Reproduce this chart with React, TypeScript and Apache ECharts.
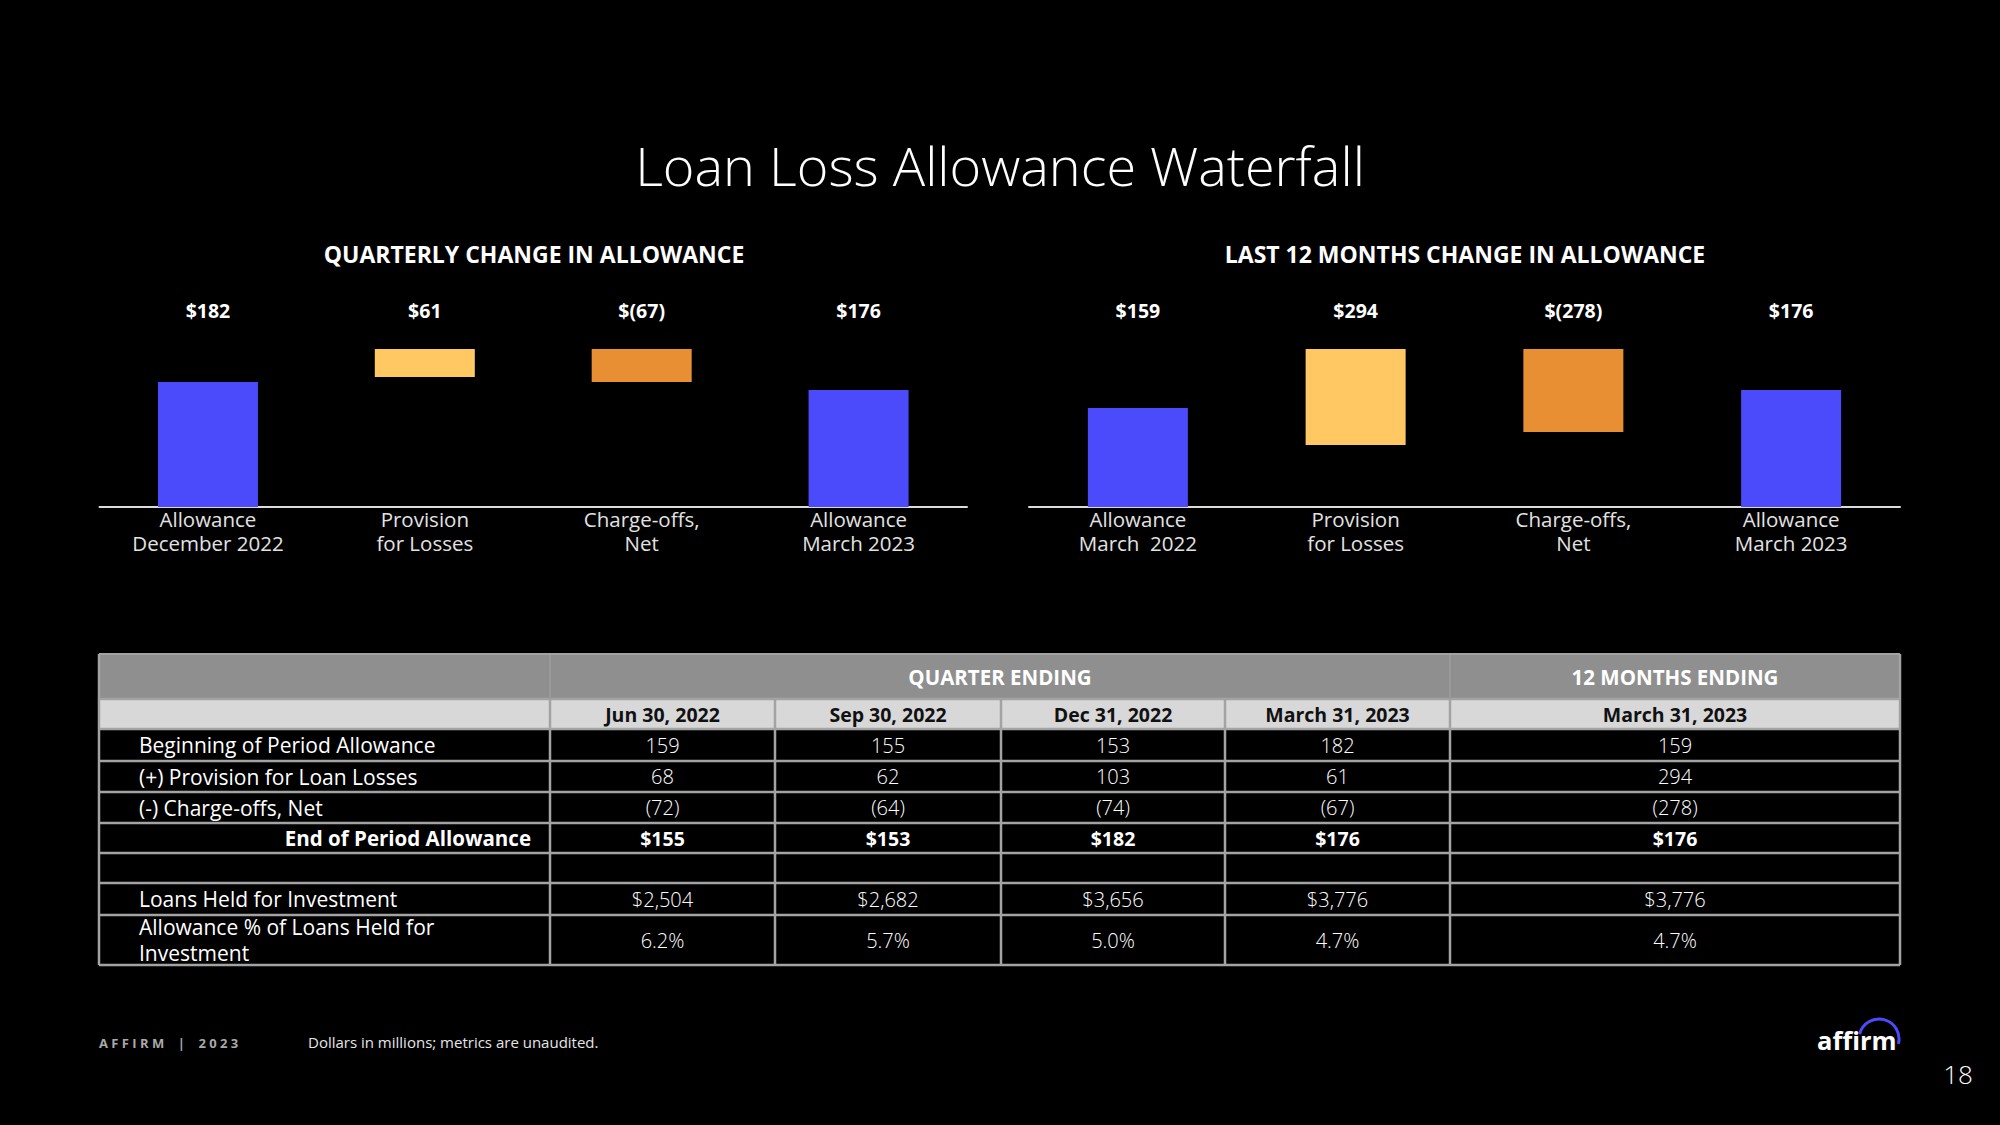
import React, { useEffect, useRef } from 'react';
import * as echarts from 'echarts';

// ---------- Chart data ----------
const qCategories = ['Allowance\nDecember 2022', 'Provision\nfor Losses', 'Charge-offs,\nNet', 'Allowance\nMarch 2023'];
const qValueLabels = ['$182', '$61', '$(67)', '$176'];
// bar extents as drawn (display scale of the slide)
const qBarLow = [0, 130, 125, 0];
const qBarHigh = [125, 158, 158, 117];

const ltmCategories = ['Allowance\nMarch  2022', 'Provision\nfor Losses', 'Charge-offs,\nNet', 'Allowance\nMarch 2023'];
const ltmValueLabels = ['$159', '$294', '$(278)', '$176'];
const ltmBarLow = [0, 62, 75, 0];
const ltmBarHigh = [99, 158, 158, 117];

const barColors = ['#4B4BFB', '#FFC862', '#E88E33', '#4B4BFB'];

// ---------- Table data ----------
const periodHeaders = ['Jun 30, 2022', 'Sep 30, 2022', 'Dec 31, 2022', 'March 31, 2023', 'March 31, 2023'];
const groupHeaders = ['QUARTER ENDING', '12 MONTHS ENDING'];
const rowLabels = [
  'Beginning of Period Allowance',
  '(+) Provision for Loan Losses',
  '(-) Charge-offs, Net',
  'End of Period Allowance',
  '',
  'Loans Held for Investment',
  'Allowance % of Loans Held for\nInvestment',
];
const beginning = [159, 155, 153, 182, 159];
const provision = [68, 62, 103, 61, 294];
const chargeOffs = [-72, -64, -74, -67, -278];
const endAllowance = [155, 153, 182, 176, 176];
const loansHeld = [2504, 2682, 3656, 3776, 3776];
const allowancePct = [6.2, 5.7, 5.0, 4.7, 4.7];

const FONT = '"Open Sans", "Noto Sans", sans-serif';

const fmtPlain = (v: number) => String(v);
const fmtNeg = (v: number) => `(${-v})`;
const fmtDollar = (v: number) => `$${v.toLocaleString('en-US')}`;
const fmtPct = (v: number) => `${v.toFixed(1)}%`;

const tableRows: string[][] = [
  beginning.map(fmtPlain),
  provision.map(fmtPlain),
  chargeOffs.map(fmtNeg),
  endAllowance.map(fmtDollar),
  ['', '', '', '', ''],
  loansHeld.map(fmtDollar),
  allowancePct.map(fmtPct),
];

// table layout
const colX = [99, 550, 775, 1001, 1225, 1450, 1900];
const rowY = [654, 699, 729, 761, 792, 823, 853, 883, 915, 965];
const LINE = '#a3a3a3';

function buildTable(): any[] {
  const g: any[] = [];
  const left = colX[0];
  const right = colX[colX.length - 1];
  g.push({ type: 'rect', shape: { x: left, y: rowY[0], width: right - left, height: rowY[1] - rowY[0] }, style: { fill: '#8f8f8f' } });
  g.push({ type: 'rect', shape: { x: left, y: rowY[1], width: right - left, height: rowY[2] - rowY[1] }, style: { fill: '#d8d8d9' } });
  g.push({ type: 'rect', shape: { x: left, y: rowY[2], width: right - left, height: rowY[rowY.length - 1] - rowY[2] }, style: { fill: '#000' } });
  for (let i = 1; i < rowY.length; i++) {
    g.push({ type: 'line', shape: { x1: left, y1: rowY[i], x2: right, y2: rowY[i] }, style: { stroke: LINE, lineWidth: 2.5 } });
  }
  for (let c = 0; c < colX.length; c++) {
    g.push({ type: 'line', shape: { x1: colX[c], y1: rowY[1], x2: colX[c], y2: rowY[rowY.length - 1] }, style: { stroke: LINE, lineWidth: 2.5 } });
  }
  [colX[1], colX[5]].forEach((x) => {
    g.push({ type: 'line', shape: { x1: x, y1: rowY[0], x2: x, y2: rowY[1] }, style: { stroke: '#9a9a9a', lineWidth: 2 } });
  });
  [left, right].forEach((x) => {
    g.push({ type: 'line', shape: { x1: x, y1: rowY[0], x2: x, y2: rowY[1] }, style: { stroke: LINE, lineWidth: 2.5 } });
  });
  g.push({ type: 'line', shape: { x1: left, y1: rowY[0], x2: right, y2: rowY[0] }, style: { stroke: LINE, lineWidth: 2 } });

  const h1y = (rowY[0] + rowY[1]) / 2;
  g.push({ type: 'text', x: (colX[1] + colX[5]) / 2, y: h1y, style: { text: groupHeaders[0], fill: '#fff', font: `bold 20.5px ${FONT}`, align: 'center', verticalAlign: 'middle' } });
  g.push({ type: 'text', x: (colX[5] + colX[6]) / 2, y: h1y, style: { text: groupHeaders[1], fill: '#fff', font: `bold 20.5px ${FONT}`, align: 'center', verticalAlign: 'middle' } });
  const h2y = (rowY[1] + rowY[2]) / 2;
  periodHeaders.forEach((t, i) => {
    g.push({ type: 'text', x: (colX[i + 1] + colX[i + 2]) / 2, y: h2y, style: { text: t, fill: '#111', font: `bold 19.5px ${FONT}`, align: 'center', verticalAlign: 'middle' } });
  });
  rowLabels.forEach((label, r) => {
    const cy = (rowY[r + 2] + rowY[r + 3]) / 2;
    const bold = r === 3;
    if (label) {
      g.push({
        type: 'text',
        x: bold ? colX[1] - 19 : 139,
        y: cy,
        style: {
          text: label,
          fill: '#fff',
          font: `${bold ? 'bold' : 'normal'} ${bold ? 20.5 : 21}px ${FONT}`,
          align: bold ? 'right' : 'left',
          verticalAlign: 'middle',
          lineHeight: 26,
        },
      });
    }
    tableRows[r].forEach((v, i) => {
      if (!v) return;
      g.push({
        type: 'text',
        x: (colX[i + 1] + colX[i + 2]) / 2,
        y: cy,
        style: { text: v, fill: '#fff', font: `${bold ? 'bold' : '300'} ${bold ? 19.5 : 20}px ${FONT}`, align: 'center', verticalAlign: 'middle' },
      });
    });
  });
  return g;
}

function App() {
  const ref = useRef<HTMLDivElement>(null);
  useEffect(() => {
    document.body.style.margin = '0';
    document.body.style.background = '#000';
    const chart = echarts.init(ref.current!, null, { renderer: 'svg' });

    const mkX = (gridIndex: number, cats: string[], labels: string[]) => [
      {
        gridIndex,
        type: 'category',
        data: cats,
        position: 'bottom',
        axisLine: { lineStyle: { color: '#dcdcdc', width: 2 } },
        axisTick: { show: false },
        axisLabel: { color: '#e2e2e2', fontSize: 20.5, lineHeight: 24, margin: 0, fontFamily: FONT, interval: 0 },
      },
      {
        gridIndex,
        type: 'category',
        data: labels,
        position: 'top',
        axisLine: { show: false },
        axisTick: { show: false },
        axisLabel: { color: '#fff', fontSize: 19.5, fontWeight: 'bold', margin: 10, fontFamily: FONT, interval: 0 },
      },
    ];

    const mkSeries = (idx: number, low: number[], high: number[], stack: string) => [
      {
        type: 'bar',
        xAxisIndex: idx * 2,
        yAxisIndex: idx,
        stack,
        barWidth: 100,
        data: low,
        itemStyle: { color: 'transparent' },
        silent: true,
      },
      {
        type: 'bar',
        xAxisIndex: idx * 2,
        yAxisIndex: idx,
        stack,
        barWidth: 100,
        data: high.map((h, i) => ({ value: h - low[i], itemStyle: { color: barColors[i] } })),
      },
    ];

    const graphic: any[] = [
      { type: 'text', x: 1000, y: 165, style: { text: 'Loan Loss Allowance Waterfall', fill: '#fff', font: `300 54px ${FONT}`, align: 'center', verticalAlign: 'middle' } },
      { type: 'text', x: 534, y: 254, style: { text: 'QUARTERLY CHANGE IN ALLOWANCE', fill: '#fff', font: `bold 23px ${FONT}`, align: 'center', verticalAlign: 'middle' } },
      { type: 'text', x: 1465, y: 254, style: { text: 'LAST 12 MONTHS CHANGE IN ALLOWANCE', fill: '#fff', font: `bold 23px ${FONT}`, align: 'center', verticalAlign: 'middle' } },
      ...buildTable(),
      { type: 'text', x: 99, y: 1043, style: { text: 'A F F I R M    |    2 0 2 3', fill: '#a9a9a9', font: `bold 13px ${FONT}`, align: 'left', verticalAlign: 'middle' } },
      { type: 'text', x: 308, y: 1042, style: { text: 'Dollars in millions; metrics are unaudited.', fill: '#e6e6e6', font: `normal 15px ${FONT}`, align: 'left', verticalAlign: 'middle' } },
      { type: 'text', x: 1817, y: 1040, style: { text: 'affirm', fill: '#fff', font: `bold 25.5px ${FONT}`, align: 'left', verticalAlign: 'middle' } },
      { type: 'arc', shape: { cx: 1879, cy: 1039, r: 20, startAngle: Math.PI * 1.08, endAngle: Math.PI * 2.08, clockwise: true }, style: { stroke: '#4B4BFB', lineWidth: 3, fill: 'none' } },
      { type: 'text', x: 1958, y: 1074, style: { text: '18', fill: '#fff', font: `300 26px ${FONT}`, align: 'center', verticalAlign: 'middle' } },
    ];

    chart.setOption({
      animation: false,
      backgroundColor: '#000',
      grid: [
        { left: 99.5, top: 330, width: 867.5, height: 177 },
        { left: 1029, top: 330, width: 871, height: 177 },
      ],
      xAxis: [...mkX(0, qCategories, qValueLabels), ...mkX(1, ltmCategories, ltmValueLabels)],
      yAxis: [
        { gridIndex: 0, type: 'value', min: 0, max: 177, show: false },
        { gridIndex: 1, type: 'value', min: 0, max: 177, show: false },
      ],
      series: [...mkSeries(0, qBarLow, qBarHigh, 'q'), ...mkSeries(1, ltmBarLow, ltmBarHigh, 'ltm')],
      graphic,
    });
    return () => chart.dispose();
  }, []);
  return <div ref={ref} style={{ position: 'fixed', left: 0, top: 0, width: 2000, height: 1125, background: '#000' }} />;
}

export default App;
